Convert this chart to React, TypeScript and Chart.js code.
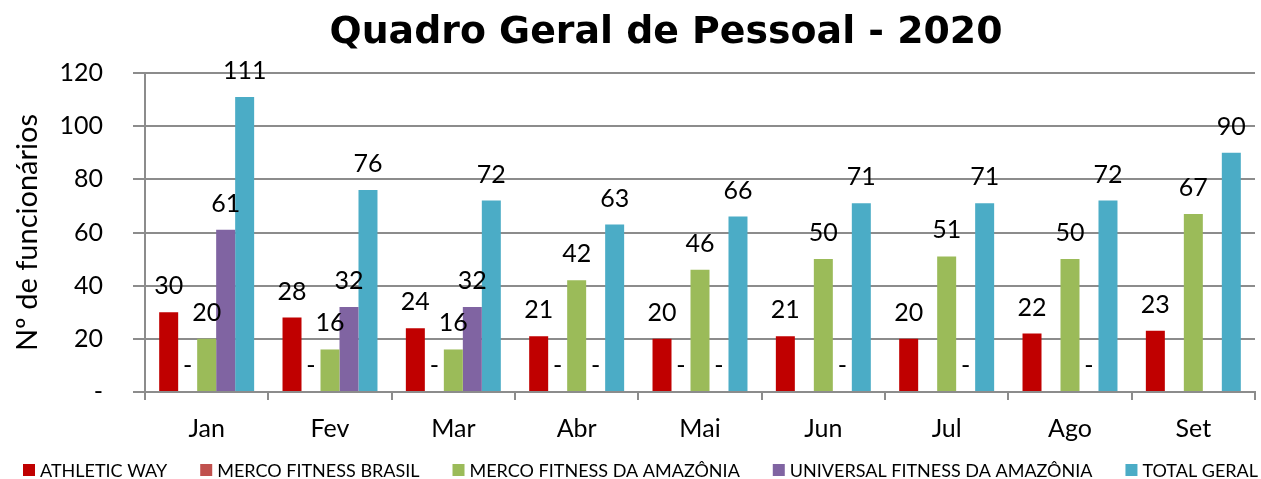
import React, { useEffect, useRef } from 'react';
import { Chart, registerables } from 'chart.js';

Chart.register(...registerables);

const titleText = 'Quadro Geral de Pessoal - 2020';
const yAxisTitle = 'Nº de funcionários';
const months = ['Jan', 'Fev', 'Mar', 'Abr', 'Mai', 'Jun', 'Jul', 'Ago', 'Set'];
const athleticWay = [30, 28, 24, 21, 20, 21, 20, 22, 23];
const mercoBrasil = [0, 0, 0, 0, 0, null, null, null, null];
const mercoAmazonia = [20, 16, 16, 42, 46, 50, 51, 50, 67];
const universal = [61, 32, 32, 0, 0, 0, 0, 0, null];
const totalGeral = [111, 76, 72, 63, 66, 71, 71, 72, 90];
const seriesNames = [
  'ATHLETIC WAY',
  'MERCO FITNESS BRASIL',
  'MERCO FITNESS DA AMAZÔNIA',
  'UNIVERSAL FITNESS DA AMAZÔNIA',
  'TOTAL GERAL',
];
const seriesColors = ['#C00000', '#C0504D', '#9BBB59', '#8064A2', '#4BACC6'];
const yMin = 0;
const yMax = 120;
const yStep = 20;

const FONT = 'Lato, "Open Sans", sans-serif';
const GRID = '#8c8c8c';

const overlayPlugin = {
  id: 'overlay',
  afterDatasetsDraw(chart: any) {
    const ctx = chart.ctx;
    ctx.save();
    ctx.fillStyle = '#000';
    ctx.font = `25px ${FONT}`;
    ctx.textAlign = 'center';
    ctx.textBaseline = 'alphabetic';
    chart.data.datasets.forEach((ds: any, i: number) => {
      const meta = chart.getDatasetMeta(i);
      meta.data.forEach((bar: any, j: number) => {
        const v = ds.data[j];
        if (v === null || v === undefined) return;
        const txt = v === 0 ? '-' : String(v);
        ctx.fillText(txt, bar.x, bar.y - 18);
      });
    });
    ctx.restore();
  },
  afterDraw(chart: any) {
    const ctx = chart.ctx;
    ctx.save();
    // title
    ctx.fillStyle = '#000';
    ctx.font = `bold 37px "DejaVu Sans", Verdana, sans-serif`;
    const tw = ctx.measureText(titleText).width;
    const targetW = 673;
    const sx = targetW / tw;
    ctx.translate(666, 0);
    ctx.scale(sx, 1);
    ctx.textAlign = 'center';
    ctx.textBaseline = 'alphabetic';
    ctx.fillText(titleText, 0, 43);
    ctx.restore();

    // legend
    ctx.save();
    ctx.font = `18px ${FONT}`;
    ctx.textBaseline = 'middle';
    ctx.textAlign = 'left';
    const box = 12;
    const gapBT = 5;
    const widths = seriesNames.map((n) => ctx.measureText(n).width);
    const left = 23;
    const right = 1258;
    const total = widths.reduce((a, b) => a + b, 0) + seriesNames.length * (box + gapBT);
    const gap = (right - left - total) / (seriesNames.length - 1);
    let x = left;
    const yc = 470;
    seriesNames.forEach((n, i) => {
      ctx.fillStyle = seriesColors[i];
      ctx.fillRect(x, yc - box / 2, box, box);
      ctx.fillStyle = '#000';
      ctx.fillText(n, x + box + gapBT, yc + 1);
      x += box + gapBT + widths[i] + gap;
    });
    ctx.restore();
  },
};

export default function App() {
  const ref = useRef<HTMLCanvasElement | null>(null);
  useEffect(() => {
    document.body.style.margin = '0';
    const canvas = ref.current;
    if (!canvas) return;
    const datasets = [athleticWay, mercoBrasil, mercoAmazonia, universal, totalGeral].map((d, i) => ({
      label: seriesNames[i],
      data: d,
      backgroundColor: seriesColors[i],
      borderWidth: 0,
      categoryPercentage: 0.77,
      barPercentage: 1.0,
    }));
    const chart = new Chart(canvas, {
      type: 'bar',
      data: { labels: months, datasets },
      options: {
        responsive: false,
        animation: false,
        layout: { padding: { top: 73, left: 6, right: 6, bottom: 35 } },
        plugins: {
          legend: { display: false },
          title: { display: false },
          tooltip: { enabled: false },
        },
        scales: {
          x: {
            afterFit: (scale: any) => {
              scale.height = 52;
            },
            grid: {
              offset: true,
              drawOnChartArea: false,
              drawTicks: true,
              tickLength: 8,
              color: GRID,
              lineWidth: 2,
            },
            border: { display: true, color: GRID, width: 2 },
            ticks: { color: '#000', font: { family: FONT, size: 25 }, padding: 14 },
          },
          y: {
            min: yMin,
            max: yMax,
            afterFit: (scale: any) => {
              scale.width = 139;
            },
            ticks: {
              stepSize: yStep,
              color: '#000',
              font: { family: FONT, size: 25 },
              padding: 30,
              callback: (v: any) => (Number(v) === 0 ? '-' : String(v)),
            },
            grid: { color: GRID, lineWidth: 2, tickLength: 12, drawTicks: true },
            border: { display: true, color: GRID, width: 2 },
            title: {
              display: true,
              text: yAxisTitle,
              color: '#000',
              font: { family: FONT, size: 29 },
              padding: { top: 4, bottom: 16 },
            },
          },
        },
      },
      plugins: [overlayPlugin],
    });
    return () => chart.destroy();
  }, []);
  return (
    <div style={{ width: 1261, height: 479 }}>
      <canvas ref={ref} width={1261} height={479} style={{ display: 'block' }} />
    </div>
  );
}
